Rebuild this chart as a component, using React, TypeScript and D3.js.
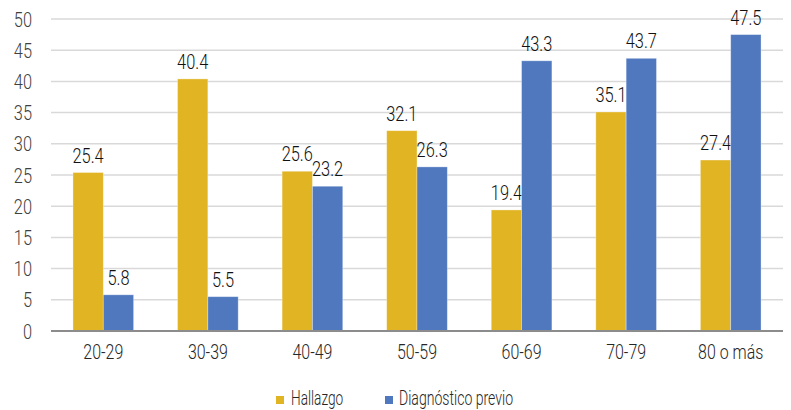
import React from "react";
import * as d3 from "d3";

const categories = ["20-29", "30-39", "40-49", "50-59", "60-69", "70-79", "80 o más"];
const hallazgo = [25.4, 40.4, 25.6, 32.1, 19.4, 35.1, 27.4];
const diagnostico = [5.8, 5.5, 23.2, 26.3, 43.3, 43.7, 47.5];
const seriesNames = ["Hallazgo", "Diagnóstico previo"];
const colors = ["#E1B423", "#4F78BF"];
const yTicks = [0, 5, 10, 15, 20, 25, 30, 35, 40, 45, 50];

const W = 791, H = 410;
const left = 51, right = 783, top = 19, bottom = 331;
const FONT = "Roboto, 'Liberation Sans', Arial, sans-serif";

function T({ x, y, sx = 0.78, anchor = "start", size = 21, fill = "#262626", children }: any) {
  return (
    <text transform={`translate(${x},${y}) scale(${sx},1)`} textAnchor={anchor} fontSize={size} fill={fill} fontWeight={300}>
      {children}
    </text>
  );
}

export default function App() {
  const x = d3.scaleBand<string>().domain(categories).range([left, right]).paddingInner(0.42).paddingOuter(0.21);
  const inner = d3.scaleBand<string>().domain(["0", "1"]).range([0, x.bandwidth()]);
  const y = d3.scaleLinear().domain([0, 50]).range([bottom, top]);
  const series = [hallazgo, diagnostico];
  const fmt = d3.format(".1f");
  return (
    <svg width={W} height={H} style={{ position: "absolute", left: 0, top: 0 }} fontFamily={FONT}>
      <rect width={W} height={H} fill="#fff" />
      {yTicks.map((t) => (
        <g key={t}>
          {t > 0 && <line x1={left} x2={right} y1={y(t)} y2={y(t)} stroke="#D9D9D9" strokeWidth={1.5} />}
          <T x={32} y={y(t) + 7.5} anchor="end" fill="#404040">{t}</T>
        </g>
      ))}
      {series.map((vals, si) =>
        vals.map((v, i) => {
          const bx = x(categories[i])! + inner(String(si))!;
          return (
            <g key={`${si}-${i}`}>
              <rect x={bx} y={y(v)} width={inner.bandwidth()} height={y(0) - y(v)} fill={colors[si]} stroke="#fff" strokeOpacity={0.4} strokeWidth={0.8} />
              <T x={bx + inner.bandwidth() / 2} y={y(v) - 10} anchor="middle" fill="#111">{fmt(v)}</T>
            </g>
          );
        })
      )}
      <line x1={left} x2={right} y1={y(0)} y2={y(0)} stroke="#8C8C8C" strokeWidth={2} />
      {categories.map((c) => (
        <T key={c} x={x(c)! + x.bandwidth() / 2} y={359} anchor="middle" sx={0.76}>{c}</T>
      ))}
      <g>
        <rect x={276} y={396} width={8} height={8} fill={colors[0]} />
        <T x={291} y={405} sx={0.65} size={21}>{seriesNames[0]}</T>
        <rect x={385} y={396} width={8} height={8} fill={colors[1]} />
        <T x={399} y={405} sx={0.67} size={21}>{seriesNames[1]}</T>
      </g>
    </svg>
  );
}
